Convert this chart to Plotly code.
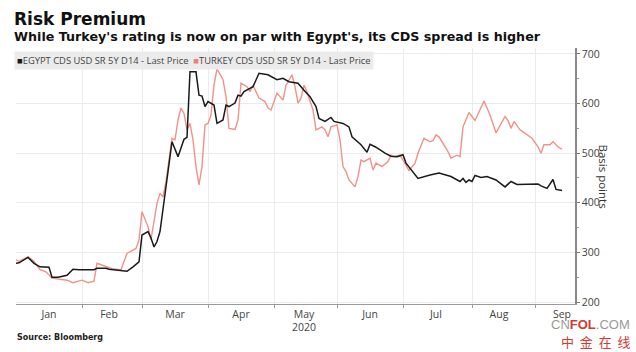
import plotly.graph_objects as go

egypt_dates = ["2020-01-02","2020-01-03","2020-01-08","2020-01-10","2020-01-14","2020-01-17","2020-01-20","2020-01-22","2020-01-27","2020-01-29","2020-01-31",
"2020-02-07","2020-02-10","2020-02-13","2020-02-14","2020-02-20","2020-02-24","2020-02-26","2020-02-28",
"2020-03-02","2020-03-04","2020-03-05","2020-03-06","2020-03-09","2020-03-10","2020-03-16","2020-03-18","2020-03-20","2020-03-23","2020-03-24","2020-03-26","2020-03-27","2020-03-30","2020-03-31",
"2020-04-01","2020-04-03","2020-04-06","2020-04-08","2020-04-09","2020-04-10","2020-04-14","2020-04-15","2020-04-16","2020-04-17","2020-04-22","2020-04-24","2020-04-29",
"2020-05-04","2020-05-06","2020-05-08","2020-05-13","2020-05-15","2020-05-19","2020-05-21","2020-05-22","2020-05-26","2020-05-28","2020-05-29",
"2020-06-03","2020-06-05","2020-06-08","2020-06-11","2020-06-15","2020-06-16","2020-06-18","2020-06-23","2020-06-25","2020-06-29",
"2020-07-01","2020-07-02","2020-07-06","2020-07-08","2020-07-14","2020-07-17","2020-07-23","2020-07-28","2020-07-29","2020-07-30","2020-07-31",
"2020-08-03","2020-08-04","2020-08-06","2020-08-10","2020-08-13","2020-08-18","2020-08-20","2020-08-24",
"2020-09-02","2020-09-03","2020-09-07","2020-09-09","2020-09-10","2020-09-14"]
egypt_values = [278,279,290,278,271,270,250,250,254,266,265,
265,268,268,266,263,262,271,281,
335,342,329,311,322,342,523,493,528,532,664,664,617,615,594,
604,597,560,567,597,594,601,617,615,624,634,661,658,
648,651,644,641,627,614,594,570,564,572,564,
560,553,533,517,502,518,512,500,494,493,
497,480,465,449,456,460,453,443,449,441,446,
443,455,451,453,446,432,443,437,
438,434,429,447,427,425]

turkey_dates = ["2020-01-02","2020-01-03","2020-01-08","2020-01-10","2020-01-14","2020-01-16","2020-01-20","2020-01-23","2020-01-27","2020-01-29",
"2020-02-03","2020-02-05","2020-02-07","2020-02-10","2020-02-13","2020-02-17","2020-02-20","2020-02-21","2020-02-24","2020-02-27","2020-02-28",
"2020-03-02","2020-03-04","2020-03-05","2020-03-09","2020-03-10","2020-03-11","2020-03-12","2020-03-13","2020-03-16","2020-03-17","2020-03-18","2020-03-19","2020-03-20","2020-03-23","2020-03-24","2020-03-25","2020-03-26","2020-03-27","2020-03-30","2020-03-31",
"2020-04-01","2020-04-02","2020-04-03","2020-04-06","2020-04-08","2020-04-09","2020-04-10","2020-04-14","2020-04-15","2020-04-16","2020-04-20","2020-04-21","2020-04-22","2020-04-24","2020-04-28","2020-04-29","2020-04-30",
"2020-05-04","2020-05-06","2020-05-07","2020-05-11","2020-05-12","2020-05-13","2020-05-14","2020-05-15","2020-05-18","2020-05-20","2020-05-21","2020-05-25","2020-05-26","2020-05-27","2020-05-28",
"2020-06-01","2020-06-02","2020-06-03","2020-06-04","2020-06-05","2020-06-09","2020-06-10","2020-06-11","2020-06-12","2020-06-16","2020-06-17","2020-06-18","2020-06-22","2020-06-24","2020-06-25","2020-06-26","2020-06-30",
"2020-07-01","2020-07-03","2020-07-07","2020-07-08","2020-07-10","2020-07-14","2020-07-15","2020-07-16","2020-07-17","2020-07-22","2020-07-23","2020-07-27","2020-07-28","2020-07-29","2020-07-31",
"2020-08-04","2020-08-07","2020-08-11","2020-08-13","2020-08-18","2020-08-19","2020-08-20","2020-08-21","2020-08-25","2020-08-26","2020-08-31",
"2020-09-02","2020-09-03","2020-09-04","2020-09-08","2020-09-09","2020-09-11","2020-09-14"]
turkey_values = [285,282,291,282,265,261,248,246,244,239,
244,239,242,278,271,267,265,281,298,308,325,
382,352,326,399,419,412,443,486,530,527,567,591,580,547,560,527,473,436,473,557,
560,577,637,670,648,614,550,548,567,641,634,624,637,611,604,591,587,
621,607,637,658,634,601,611,637,624,587,547,553,547,533,553,
557,527,473,463,446,432,453,486,483,490,466,480,473,483,496,493,496,
486,465,480,500,530,523,525,537,533,503,490,496,493,553,582,
566,605,577,541,574,566,550,564,547,543,530,
513,500,517,517,523,511,508]

month_start_ticks = ["2020-01-01","2020-02-03","2020-03-02","2020-04-01","2020-05-01","2020-06-01","2020-07-01","2020-08-03","2020-09-01"]
month_label_pos = ["2020-01-17","2020-02-14","2020-03-17","2020-04-16","2020-05-15","2020-06-16","2020-07-16","2020-08-14","2020-09-14"]
month_labels = ["Jan","Feb","Mar","Apr","May<br>2020","Jun","Jul","Aug","Sep"]
y_ticks = [200,300,400,500,600,700]

egypt_color = "#1a1a1a"
turkey_color = "#f0928a"

fig = go.Figure()
fig.add_trace(go.Scatter(x=turkey_dates, y=turkey_values, mode="lines",
                         line=dict(color=turkey_color, width=1.4),
                         name="TURKEY CDS USD SR 5Y D14 - Last Price", showlegend=False))
fig.add_trace(go.Scatter(x=egypt_dates, y=egypt_values, mode="lines",
                         line=dict(color=egypt_color, width=1.5),
                         name="EGYPT CDS USD SR 5Y D14 - Last Price", showlegend=False))

fig.update_layout(
    width=636, height=352,
    margin=dict(l=16, r=61, t=48, b=48),
    paper_bgcolor="white", plot_bgcolor="white",
    font=dict(family="Liberation Sans, Arial, sans-serif", color="#333"),
    xaxis=dict(
        type="date",
        range=["2020-01-02", "2020-09-18 08:00"],
        rangebreaks=[dict(bounds=["sat", "mon"])],
        tickmode="array", tickvals=month_label_pos, ticktext=month_labels,
        ticks="", showgrid=False,
        tickfont=dict(size=10.5, color="#444", family="Open Sans, sans-serif"),
        showline=True, linecolor="#9a9a9a", linewidth=1.2,
        minor=dict(tickmode="array", tickvals=month_start_ticks, showgrid=True,
                   gridcolor="#ebebeb", gridwidth=1, ticks="outside", ticklen=3,
                   tickcolor="#9a9a9a"),
        zeroline=False, fixedrange=True,
    ),
    yaxis=dict(
        side="right", range=[196, 712],
        tickmode="array", tickvals=y_ticks,
        showgrid=True, gridcolor="#ebebeb", gridwidth=1,
        ticks="outside", ticklen=3, tickcolor="#777",
        tickfont=dict(size=10.5, color="#444", family="Open Sans, sans-serif"),
        showline=True, linecolor="#888", linewidth=1.5,
        minor=dict(dtick=50, tick0=0, ticks="outside", ticklen=2, tickcolor="#999", showgrid=False),
        zeroline=False, fixedrange=True,
    ),
)

legend_text = ("<span style='color:%s'>■</span>EGYPT CDS USD SR 5Y D14 - Last Price  "
               "<span style='color:%s'>■</span>TURKEY CDS USD SR 5Y D14 - Last Price" % (egypt_color, "#f07f78"))

fig.add_annotation(xref="paper", yref="paper", x=-2/559, y=1 - 3/256, xanchor="left", yanchor="top",
                   text=legend_text, showarrow=False, bgcolor="#ebebeb", borderpad=2,
                   font=dict(size=9.4, color="#444", family="Open Sans, sans-serif"), align="left")

fig.add_annotation(xref="paper", yref="paper", x=(613-16)/559, y=(304-176)/256, text="Basis points",
                   textangle=90, showarrow=False, font=dict(size=11.5, color="#333", family="Open Sans, sans-serif"))

fig.add_annotation(xref="paper", yref="paper", x=(12-16)/559, y=(304-7)/256, xanchor="left", yanchor="top",
                   text="<b>Risk Premium</b>", showarrow=False,
                   font=dict(size=17, color="#111", family="DejaVu Sans, sans-serif"))
fig.add_annotation(xref="paper", yref="paper", x=(12-16)/559, y=(304-27)/256, xanchor="left", yanchor="top",
                   text="<b>While Turkey's rating is now on par with Egypt's, its CDS spread is higher</b>",
                   showarrow=False, font=dict(size=12.7, color="#111", family="DejaVu Sans, sans-serif"))
fig.add_annotation(xref="paper", yref="paper", x=(15-16)/559, y=(304-331)/256, xanchor="left", yanchor="top",
                   text="<b>Source: Bloomberg</b>", showarrow=False,
                   font=dict(size=8, color="#222", family="DejaVu Sans, sans-serif"))

fig.add_annotation(xref="paper", yref="paper", x=(632-16)/559, y=(304-315)/256, xanchor="right", yanchor="top",
                   text="<span style='color:#9a9a9a'>CN</span><b><span style='color:#d23a32'>FOL</span></b><span style='color:#9a9a9a'>.COM</span>",
                   showarrow=False, font=dict(size=13, family="Liberation Sans, Arial, sans-serif"))
fig.add_annotation(xref="paper", yref="paper", x=(632-16)/559, y=(304-330)/256, xanchor="right", yanchor="top",
                   text="中  金  在  线", showarrow=False,
                   font=dict(size=13, color="#d23a32", family="Noto Sans CJK SC"))

fig.write_html("out.html")
